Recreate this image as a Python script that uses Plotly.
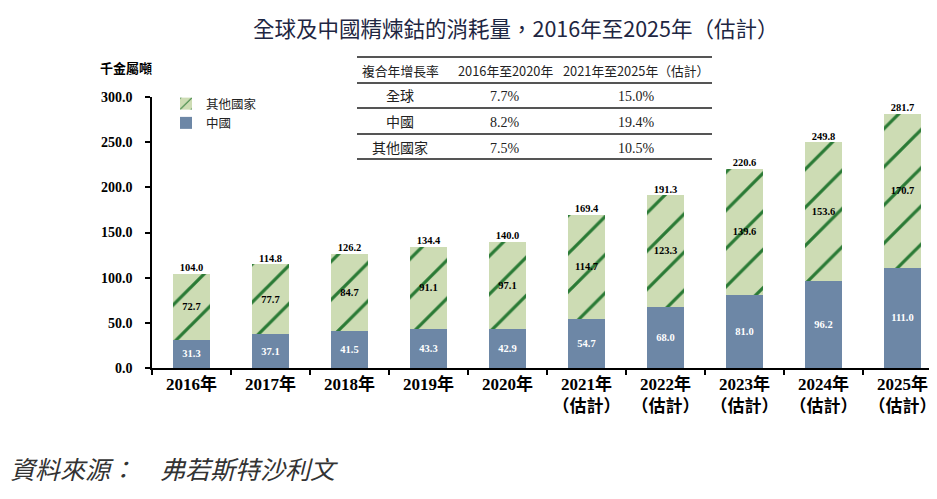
import plotly.graph_objects as go

# ---------------- data ----------------
years = ["2016年", "2017年", "2018年", "2019年", "2020年",
         "2021年<br>（估計）", "2022年<br>（估計）", "2023年<br>（估計）",
         "2024年<br>（估計）", "2025年<br>（估計）"]
china = [31.3, 37.1, 41.5, 43.3, 42.9, 54.7, 68.0, 81.0, 96.2, 111.0]
others = [72.7, 77.7, 84.7, 91.1, 97.1, 114.7, 123.3, 139.6, 153.6, 170.7]
totals = [104.0, 114.8, 126.2, 134.4, 140.0, 169.4, 191.3, 220.6, 249.8, 281.7]
y_ticks = [0, 50, 100, 150, 200, 250, 300]

cagr_header = ["複合年增長率", "2016年至2020年", "2021年至2025年（估計）"]
cagr_rows = ["全球", "中國", "其他國家"]
cagr_2016_2020 = ["7.7%", "8.2%", "7.5%"]
cagr_2021_2025 = ["15.0%", "19.4%", "10.5%"]

# ---------------- layout geometry (page has an 8px body margin) ----------------
OFF = 8
W, H = 937 - OFF, 499 - OFF
PL, PR, PT, PB = 152, 937, 97, 368          # plot area in page pixels
L, R, T, B = PL - OFF, (937 - PR), PT - OFF, H - (PB - OFF)
PW, PH = PR - PL, PB - PT

def px(x):
    return (x - PL) / PW

def py(y):
    return (PB - y) / PH

SERIF = "Liberation Serif, Noto Sans CJK TC"
SANS = "Noto Sans CJK TC, Noto Sans"
BLUE = "#6D87A6"
GREEN_BG = "#CDDCB4"
GREEN_FG = "#2A7A35"

fig = go.Figure()
fig.add_trace(go.Bar(
    x=years, y=china, name="中國", marker=dict(color=BLUE, line=dict(width=0)),
    width=0.47, text=[f"{v:.1f}" for v in china], textposition="inside",
    insidetextanchor="middle", constraintext="none",
    textfont=dict(family=SERIF, size=10.5, color="white", weight="bold"),
    hoverinfo="skip"))
fig.add_trace(go.Bar(
    x=years, y=others, name="其他國家",
    marker=dict(color=GREEN_BG, line=dict(width=0),
                pattern=dict(shape="/", fgcolor=GREEN_FG, bgcolor=GREEN_BG, fgopacity=1,
                             size=27, solidity=0.12, fillmode="replace")),
    width=0.47, text=[f"{v:.1f}" for v in others], textposition="inside",
    insidetextanchor="middle", constraintext="none",
    textfont=dict(family=SERIF, size=10.5, color="black", weight="bold"),
    hoverinfo="skip"))
fig.add_trace(go.Scatter(
    x=years, y=totals, mode="text", text=[f"{v:.1f}" for v in totals],
    textposition="top center", cliponaxis=False, showlegend=False,
    textfont=dict(family=SERIF, size=10.5, color="black", weight="bold"),
    hoverinfo="skip"))

annotations = []
shapes = []

# title
annotations.append(dict(text="全球及中國精煉鈷的消耗量，2016年至2025年（估計）",
                        x=px(515), y=py(28), xref="paper", yref="paper",
                        showarrow=False, xanchor="center", yanchor="middle",
                        font=dict(family=SANS, size=21.5, color="#1E2642")))
# y unit
annotations.append(dict(text="千金屬噸", x=px(126), y=py(68), xref="paper", yref="paper",
                        showarrow=False, xanchor="center", yanchor="middle",
                        font=dict(family=SANS, size=13, color="black", weight="bold")))
# source
annotations.append(dict(text="資料來源：　弗若斯特沙利文", x=px(8), y=py(470),
                        xref="paper", yref="paper", showarrow=False,
                        xanchor="left", yanchor="middle",
                        font=dict(family=SERIF, size=25, color="#333333", style="italic")))

# CAGR table
col_x = [400, 505, 636]
header_y = 70
row_ys = [96, 122, 148]
line_ys = [57, 83, 108, 134, 159]
for i, h in enumerate(cagr_header):
    annotations.append(dict(text=h, x=px(col_x[i]), y=py(header_y), xref="paper", yref="paper",
                            showarrow=False, xanchor="center", yanchor="middle",
                            font=dict(family=SANS, size=12.8, color="#222222")))
for r in range(len(cagr_rows)):
    vals = [cagr_rows[r], cagr_2016_2020[r], cagr_2021_2025[r]]
    for i, v in enumerate(vals):
        annotations.append(dict(text=v, x=px(col_x[i]), y=py(row_ys[r]), xref="paper", yref="paper",
                                showarrow=False, xanchor="center", yanchor="middle",
                                font=dict(family=SERIF, size=14, color="#222222")))
for k, ly in enumerate(line_ys):
    shapes.append(dict(type="line", xref="paper", yref="paper",
                       x0=px(357), x1=px(712), y0=py(ly), y1=py(ly),
                       line=dict(color="#555555", width=2)))

fig.update_layout(
    width=W, height=H,
    margin=dict(l=L, r=R, t=T, b=B, autoexpand=False),
    paper_bgcolor="white", plot_bgcolor="white",
    barmode="stack", bargap=0.53,
    showlegend=True,
    legend=dict(x=px(166), y=py(89), xanchor="left", yanchor="top",
                traceorder="reversed", tracegroupgap=0, itemwidth=30,
                font=dict(family=SERIF, size=12.5, color="#222222"),
                bgcolor="rgba(0,0,0,0)"),
    annotations=annotations, shapes=shapes,
    xaxis=dict(type="category", range=[-0.5, 9.5 - 5 / 79], showline=True, automargin=False,
               linecolor="black", linewidth=1.5, ticks="outside", tickson="boundaries",
               ticklen=5, tickcolor="black", tickwidth=1.5, showgrid=False,
               tickfont=dict(family=SERIF, size=17, color="black", weight="bold")),
    yaxis=dict(range=[0, 300], tickvals=y_ticks, ticktext=[f"{v:.1f}" for v in y_ticks],
               showline=True, linecolor="black", linewidth=1.5, ticks="outside", automargin=False,
               ticklen=5, tickcolor="black", tickwidth=1.5, showgrid=False, zeroline=False,
               ticklabelstandoff=10,
               tickfont=dict(family=SERIF, size=14, color="black", weight="bold")),
)

fig.write_html("out.html")
